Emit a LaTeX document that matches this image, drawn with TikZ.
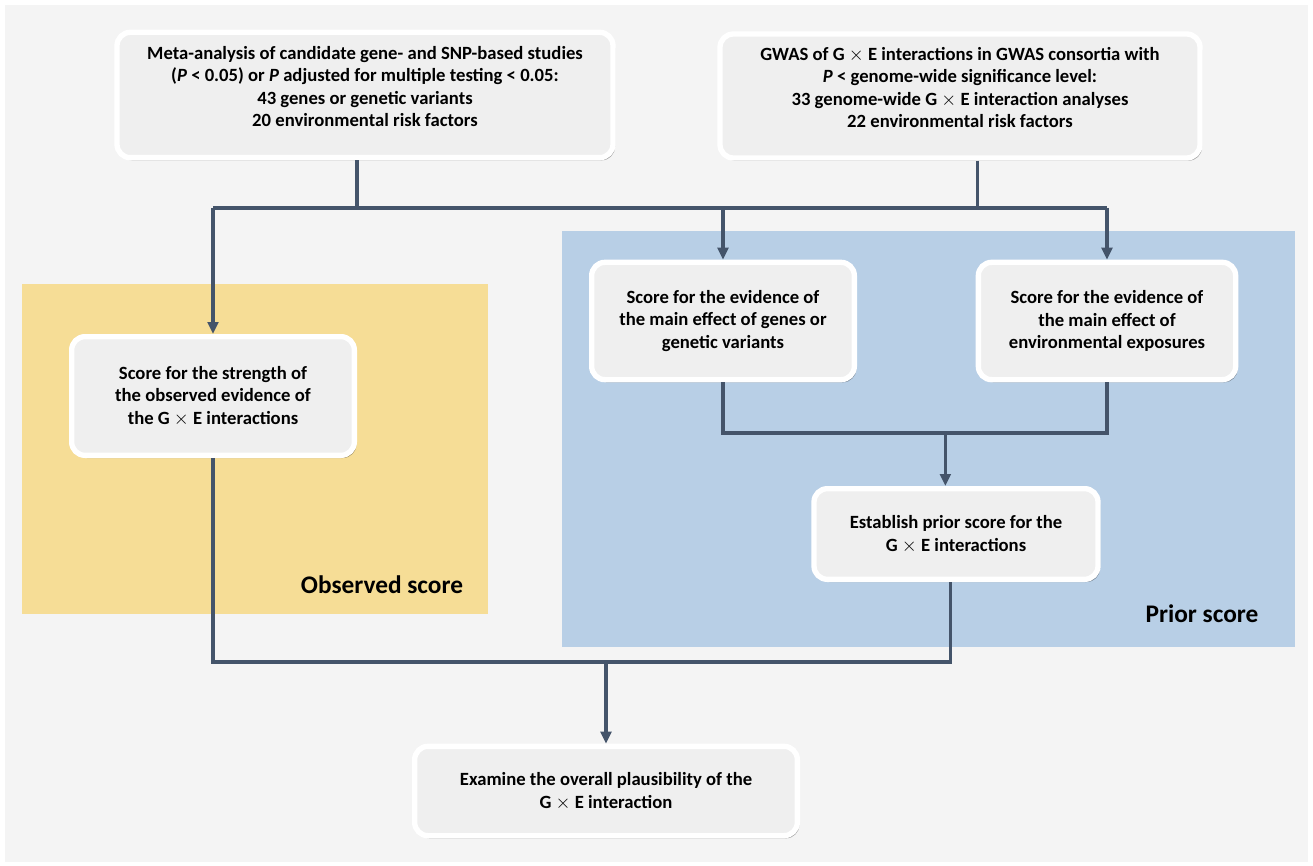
\documentclass[tikz,border=0pt]{standalone}
\usepackage{fontspec}
\setmainfont{Carlito}
\usetikzlibrary{shadows,arrows.meta}
\definecolor{hgrund}{HTML}{F4F4F4}
\definecolor{obsgelb}{HTML}{F6DD96}
\definecolor{priorblau}{HTML}{B8CFE6}
\definecolor{linie}{HTML}{44546A}
\definecolor{kastenfuell}{HTML}{EFEFEF}
\newcommand{\GxE}{G $\times$ E}
\begin{document}
\begin{tikzpicture}[x=0.75pt,y=-0.75pt,>={Triangle[length=9pt,width=8pt]},
  kasten/.style={rectangle,rounded corners=10pt,draw=white,line width=4pt,
    fill=kastenfuell,align=center,inner sep=4pt,
    font=\bfseries\fontsize{14}{16.9}\selectfont,
    drop shadow={shadow xshift=1.5pt,shadow yshift=-2pt,opacity=.35,fill=black}},
  verb/.style={draw=linie,line width=2.5pt},
  titel/.style={font=\bfseries\fontsize{19}{22}\selectfont}]
\useasboundingbox (0,0) rectangle (1313,866);
% Hintergrund und Felder
\fill[hgrund] (5,5) rectangle (1308,862);
\fill[obsgelb] (22,284) rectangle (488,614);
\fill[priorblau] (562,231) rectangle (1295,647);
% Kaesten
\node[kasten,minimum width=372pt,minimum height=94pt] (meta) at (365,95)
  {Meta-analysis of candidate gene- and SNP-based studies\\
   (\textit{P} < 0.05) or \textit{P} adjusted for multiple testing < 0.05:\\
   43 genes or genetic variants\\
   20 environmental risk factors\\[-4pt]};
\node[kasten,minimum width=360pt,minimum height=93pt] (gwas) at (960,96)
  {GWAS of \GxE{} interactions in GWAS consortia with\\
   \textit{P} < genome-wide significance level:\\
   33 genome-wide \GxE{} interaction analyses\\
   22 environmental risk factors\\[-4pt]};
\node[kasten,minimum width=212pt,minimum height=89pt] (observed) at (213,396)
  {Score for the strength of\\the observed evidence of\\the \GxE{} interactions};
\node[kasten,minimum width=197pt,minimum height=88pt] (gene) at (723,321)
  {Score for the evidence of\\the main effect of genes or\\genetic variants};
\node[kasten,minimum width=193pt,minimum height=88pt] (env) at (1107,321)
  {Score for the evidence of\\the main effect of\\environmental exposures};
\node[kasten,minimum width=213pt,minimum height=68pt] (prior) at (956,534)
  {Establish prior score for the\\\GxE{} interactions};
\node[kasten,minimum width=287pt,minimum height=67pt] (overall) at (606,791)
  {Examine the overall plausibility of the\\\GxE{} interaction};
% Beschriftungen
\node[titel] (obslabel) at (382,585) {Observed score};
\node[titel] (priorlabel) at (1202,614) {Prior score};
% Verbindungen
\coordinate (oben) at (0,208);
\coordinate (mitte) at (0,433);
\coordinate (unten) at (0,662);
\draw[verb] ([xshift=-6pt]meta.south) -- ([xshift=-6pt]meta.south |- oben);
\draw[verb] ([xshift=13pt]gwas.south) -- ([xshift=13pt]gwas.south |- oben);
\draw[verb] (observed.north |- oben) -- (env.north |- oben);
\draw[verb,->] (observed.north |- oben) -- (observed.north);
\draw[verb,->] (gene.north |- oben) -- (gene.north);
\draw[verb,->] (env.north |- oben) -- (env.north);
\draw[verb] (gene.south) -- (gene.south |- mitte) -- (env.south |- mitte) -- (env.south);
\draw[verb,->] ([xshift=-8pt]prior.north |- mitte) -- ([xshift=-8pt]prior.north);
\draw[verb] (observed.south) -- (observed.south |- unten) -- ([xshift=-4pt]prior.south |- unten) -- ([xshift=-4pt]prior.south);
\draw[verb,->] (overall.north |- unten) -- (overall.north);
\end{tikzpicture}
\end{document}
